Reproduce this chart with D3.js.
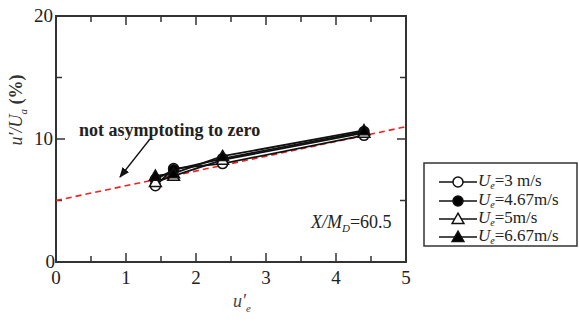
<!DOCTYPE html>
<html>
<head>
<script src="https://d3js.org/d3.v7.min.js"></script>
</head>
<body style="margin:0">
<svg width="579" height="323"></svg>
<script>
// data
var xVals = [1.42, 1.68, 2.38, 4.4];
var openCircle = [6.2, 7.6, 8.0, 10.3];
var fillCircle = [6.7, 7.5, 8.4, 10.6];
var openTri = [6.5, 7.0, 8.3, 10.5];
var fillTri = [7.0, 7.2, 8.6, 10.7];
var seriesNames = ["=3 m/s", "=4.67m/s", "=5m/s", "=6.67m/s"];
var xTicks = [0, 1, 2, 3, 4, 5];
var yTicks = [0, 10, 20];
var fitLine = [[0, 5.0], [5, 11.0]];

var fontName = ["Liberation", "Serif"];
var svg = d3.select("svg");
var x = d3.scaleLinear().domain([0, 5]).range([56, 406]);
var y = d3.scaleLinear().domain([0, 20]).range([262, 16]);

// frame
svg.append("rect")
  .attr("x", x(0)).attr("y", y(20))
  .attr("width", x(5) - x(0)).attr("height", y(0) - y(20))
  .style("fill", "none").style("stroke", "#333").style("stroke-width", 2);

// ticks, all pointing inward
var xt = d3.range(0.5, 5, 0.5);
xt.forEach(function(v) {
  var len = (v % 1 == 0) ? 9 : 6;
  svg.append("line").attr("x1", x(v)).attr("x2", x(v))
    .attr("y1", y(0)).attr("y2", y(0) - len)
    .style("stroke", "#333").style("stroke-width", 1.5);
  svg.append("line").attr("x1", x(v)).attr("x2", x(v))
    .attr("y1", y(20)).attr("y2", y(20) + len)
    .style("stroke", "#333").style("stroke-width", 1.5);
});
[5, 10, 15].forEach(function(v) {
  var len = (v % 10 == 0) ? 9 : 6;
  svg.append("line").attr("x1", x(0)).attr("x2", x(0) + len)
    .attr("y1", y(v)).attr("y2", y(v))
    .style("stroke", "#333").style("stroke-width", 1.5);
  svg.append("line").attr("x1", x(5)).attr("x2", x(5) - len)
    .attr("y1", y(v)).attr("y2", y(v))
    .style("stroke", "#333").style("stroke-width", 1.5);
});

// tick labels
svg.selectAll(".xl").data(xTicks).enter().append("text").attr("class", "t")
  .attr("x", function(d) { return x(d); }).attr("y", 284)
  .attr("text-anchor", "middle").style("font-size", "19px").style("fill", "#222")
  .text(function(d) { return d; });
svg.selectAll(".yl").data(yTicks).enter().append("text").attr("class", "t")
  .attr("x", function(d) { return d == 0 ? x(0) - 1 : x(0) - 3; })
  .attr("y", function(d) { return y(d) + 6; })
  .attr("text-anchor", "end").style("font-size", "19px").style("fill", "#222")
  .text(function(d) { return d; });

// axis titles
var xl = svg.append("text").attr("class", "t").attr("x", 233).attr("y", 307)
  .style("font-size", "18px").style("font-style", "italic").style("fill", "#444");
xl.append("tspan").text("u′");
xl.append("tspan").attr("dy", 5).style("font-size", "11px").text("e");

var yl = svg.append("text").attr("class", "t").attr("transform", "translate(22,110) rotate(-90)")
  .attr("text-anchor", "middle").style("font-size", "18px").style("fill", "#333");
yl.append("tspan").style("font-style", "italic").text("u′/U");
yl.append("tspan").attr("dy", 5).style("font-style", "italic").style("font-size", "11px").text("a");
yl.append("tspan").attr("dy", -5).style("font-weight", "bold").text(" (%)");

// red dashed fit line
svg.append("line")
  .attr("x1", x(fitLine[0][0])).attr("y1", y(fitLine[0][1]))
  .attr("x2", x(fitLine[1][0])).attr("y2", y(fitLine[1][1]))
  .style("stroke", "#ee2222").style("stroke-width", 1.6)
  .style("stroke-dasharray", "6,4");

// series
var allSeries = [openCircle, fillCircle, openTri, fillTri];
var markerType = ["circle", "circle", "triangle", "triangle"];
var markerFill = ["#fff", "#000", "#fff", "#000"];
var line = d3.line().x(function(d, i) { return x(xVals[i]); }).y(function(d) { return y(d); });

allSeries.forEach(function(s, k) {
  svg.append("path").datum(s).attr("d", line)
    .style("fill", "none").style("stroke", "#111").style("stroke-width", 1.8);
});
function drawMarker(g, k, cx, cy) {
  if (markerType[k] == "circle") {
    g.append("circle").attr("cx", cx).attr("cy", cy).attr("r", 5)
      .style("fill", markerFill[k]).style("stroke", "#111").style("stroke-width", 1.5);
  } else {
    g.append("path")
      .attr("d", d3.symbol().type(d3.symbolTriangle).size(60))
      .attr("transform", "translate(" + cx + "," + (cy + 1) + ")")
      .style("fill", markerFill[k]).style("stroke", "#111").style("stroke-width", 1.5);
  }
}
allSeries.forEach(function(s, k) {
  s.forEach(function(v, i) { drawMarker(svg, k, x(xVals[i]), y(v)); });
});

// annotation
svg.append("text").attr("class", "t").attr("x", 79).attr("y", 136)
  .style("font-size", "18px").style("font-weight", "bold").style("fill", "#222")
  .text("not asymptoting to zero");
svg.append("defs").append("marker").attr("id", "arr")
  .attr("viewBox", "0 0 10 10").attr("refX", 9).attr("refY", 5)
  .attr("markerWidth", 8).attr("markerHeight", 8).attr("orient", "auto")
  .append("path").attr("d", "M0,1 L10,5 L0,9 Z").style("fill", "#111");
svg.append("line").attr("x1", 150).attr("y1", 139).attr("x2", 120).attr("y2", 177)
  .style("stroke", "#111").style("stroke-width", 1.3).attr("marker-end", "url(#arr)");

var lab = svg.append("text").attr("class", "t").attr("x", 311).attr("y", 228)
  .style("font-size", "18px").style("fill", "#222");
lab.append("tspan").style("font-style", "italic").text("X/M");
lab.append("tspan").attr("dy", 4).style("font-style", "italic").style("font-size", "11px").text("D");
lab.append("tspan").attr("dy", -4).text("=60.5");

// legend
svg.append("rect").attr("x", 424).attr("y", 163).attr("width", 153).attr("height", 83)
  .style("fill", "#fff").style("stroke", "#333").style("stroke-width", 1.5);
var rows = [182, 201, 219, 237];
seriesNames.forEach(function(name, k) {
  var ry = rows[k];
  svg.append("line").attr("x1", 439).attr("x2", 477).attr("y1", ry).attr("y2", ry)
    .style("stroke", "#111").style("stroke-width", 1.5);
  drawMarker(svg, k, 458, ry);
  var t = svg.append("text").attr("class", "t").attr("x", 478).attr("y", ry + 4)
    .style("font-size", "17px").style("fill", "#222");
  t.append("tspan").style("font-style", "italic").text("U");
  t.append("tspan").attr("dy", 3).style("font-style", "italic").style("font-size", "10px").text("e");
  t.append("tspan").attr("dy", -3).text(name);
});

// serif face for every label, set last
svg.selectAll("text.t").style("font-family", function() { return "'" + fontName.join(" ") + "'"; });
</script>
</body>
</html>
